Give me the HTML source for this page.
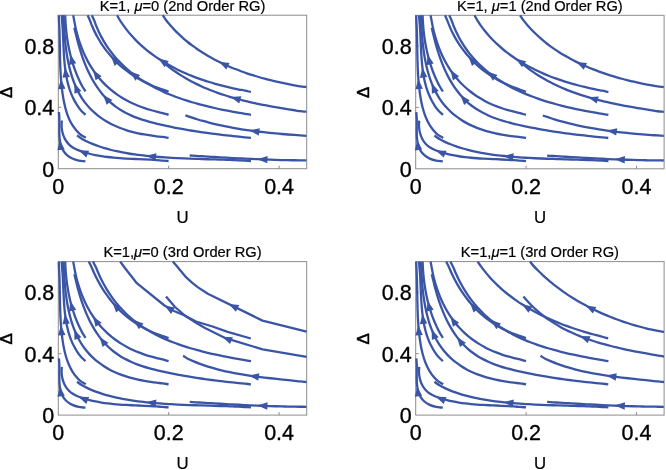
<!DOCTYPE html>
<html><head><meta charset="utf-8"><style>
html,body{margin:0;padding:0;background:#fff;}
body{width:666px;height:470px;overflow:hidden;}
svg{display:block;will-change:transform;filter:blur(0.35px);}
text{font-family:"Liberation Sans",sans-serif;fill:#000;stroke:#000;stroke-width:0.2px;}
.tk{stroke:#000;stroke-width:0.35px;}
.dl{stroke-width:0.45px;}
</style></head><body>
<svg width="666" height="470" viewBox="0 0 666 470">
<rect x="58.30" y="15.20" width="248.40" height="153.50" fill="none" stroke="#8c8c8c" stroke-width="1"/><line x1="168.70" y1="168.70" x2="168.70" y2="165.70" stroke="#8c8c8c" stroke-width="1"/><line x1="279.10" y1="168.70" x2="279.10" y2="165.70" stroke="#8c8c8c" stroke-width="1"/><line x1="58.30" y1="107.30" x2="61.30" y2="107.30" stroke="#8c8c8c" stroke-width="1"/><line x1="58.30" y1="45.90" x2="61.30" y2="45.90" stroke="#8c8c8c" stroke-width="1"/>
<rect x="415.70" y="15.30" width="248.40" height="153.50" fill="none" stroke="#8c8c8c" stroke-width="1"/><line x1="526.10" y1="168.80" x2="526.10" y2="165.80" stroke="#8c8c8c" stroke-width="1"/><line x1="636.50" y1="168.80" x2="636.50" y2="165.80" stroke="#8c8c8c" stroke-width="1"/><line x1="415.70" y1="107.40" x2="418.70" y2="107.40" stroke="#8c8c8c" stroke-width="1"/><line x1="415.70" y1="46.00" x2="418.70" y2="46.00" stroke="#8c8c8c" stroke-width="1"/>
<rect x="58.30" y="261.60" width="248.40" height="153.50" fill="none" stroke="#8c8c8c" stroke-width="1"/><line x1="168.70" y1="415.10" x2="168.70" y2="412.10" stroke="#8c8c8c" stroke-width="1"/><line x1="279.10" y1="415.10" x2="279.10" y2="412.10" stroke="#8c8c8c" stroke-width="1"/><line x1="58.30" y1="353.70" x2="61.30" y2="353.70" stroke="#8c8c8c" stroke-width="1"/><line x1="58.30" y1="292.30" x2="61.30" y2="292.30" stroke="#8c8c8c" stroke-width="1"/>
<rect x="415.70" y="261.60" width="248.40" height="153.50" fill="none" stroke="#8c8c8c" stroke-width="1"/><line x1="526.10" y1="415.10" x2="526.10" y2="412.10" stroke="#8c8c8c" stroke-width="1"/><line x1="636.50" y1="415.10" x2="636.50" y2="412.10" stroke="#8c8c8c" stroke-width="1"/><line x1="415.70" y1="353.70" x2="418.70" y2="353.70" stroke="#8c8c8c" stroke-width="1"/><line x1="415.70" y1="292.30" x2="418.70" y2="292.30" stroke="#8c8c8c" stroke-width="1"/>
<g fill="none" stroke="#3a55a6" stroke-width="2.30" stroke-linecap="butt" stroke-linejoin="round"><path d="M162.70 15.20C163.85 16.90 164.91 18.65 166.14 20.30C167.37 21.94 168.73 23.51 170.08 25.06C171.42 26.61 172.80 28.13 174.20 29.61C175.61 31.09 177.05 32.53 178.51 33.94C179.98 35.35 181.48 36.72 183.00 38.06C184.52 39.40 186.07 40.71 187.65 41.98C189.22 43.25 190.82 44.49 192.45 45.70C194.08 46.91 195.73 48.09 197.40 49.23C199.07 50.38 200.77 51.49 202.48 52.58C204.20 53.66 205.94 54.71 207.69 55.74C209.45 56.76 211.22 57.76 213.02 58.73C214.81 59.69 216.62 60.63 218.45 61.54C220.27 62.46 222.12 63.34 223.98 64.20C225.83 65.06 227.71 65.89 229.59 66.69C231.48 67.50 233.38 68.28 235.28 69.04C237.19 69.79 239.11 70.52 241.04 71.23C242.97 71.94 244.92 72.63 246.86 73.29C248.81 73.95 250.77 74.59 252.73 75.21C254.69 75.83 256.66 76.42 258.64 77.00C260.61 77.57 262.59 78.13 264.57 78.66C266.55 79.20 268.54 79.71 270.52 80.21C272.51 80.71 274.50 81.18 276.49 81.64C278.48 82.10 280.47 82.54 282.45 82.97C284.44 83.39 286.43 83.80 288.41 84.19C290.39 84.58 292.37 84.96 294.34 85.32C296.32 85.68 298.24 86.08 300.25 86.36C302.26 86.64 304.35 86.79 306.40 87.00"/><path d="M117.10 15.20C118.09 16.97 119.00 18.77 120.08 20.52C121.16 22.27 122.38 24.02 123.59 25.70C124.80 27.39 126.05 29.03 127.34 30.64C128.62 32.25 129.94 33.82 131.30 35.35C132.66 36.89 134.05 38.38 135.47 39.84C136.89 41.30 138.35 42.72 139.83 44.10C141.32 45.49 142.84 46.84 144.38 48.15C145.93 49.47 147.51 50.75 149.11 51.99C150.71 53.24 152.34 54.45 153.99 55.63C155.65 56.81 157.33 57.96 159.03 59.07C160.73 60.18 162.46 61.26 164.21 62.32C165.95 63.37 167.72 64.39 169.51 65.37C171.30 66.36 173.11 67.32 174.93 68.25C176.76 69.18 178.60 70.08 180.46 70.95C182.31 71.83 184.19 72.67 186.08 73.49C187.96 74.30 189.87 75.09 191.78 75.85C193.69 76.61 195.62 77.35 197.56 78.06C199.49 78.77 201.44 79.45 203.39 80.11C205.35 80.77 207.31 81.40 209.28 82.02C211.24 82.63 213.22 83.21 215.20 83.78C217.18 84.34 219.16 84.88 221.15 85.40C223.13 85.92 225.12 86.42 227.11 86.89C229.10 87.37 231.09 87.83 233.08 88.26C235.07 88.70 237.06 89.11 239.04 89.51C241.02 89.90 242.99 90.22 244.98 90.64C246.98 91.05 248.99 91.55 251.00 92.00"/><path d="M166.00 64.50C167.57 65.76 169.11 67.07 170.71 68.29C172.31 69.51 173.96 70.68 175.61 71.82C177.26 72.96 178.94 74.07 180.63 75.14C182.32 76.21 184.02 77.24 185.75 78.25C187.47 79.25 189.21 80.22 190.97 81.16C192.73 82.10 194.50 83.00 196.29 83.88C198.07 84.76 199.87 85.61 201.69 86.43C203.50 87.25 205.33 88.04 207.17 88.80C209.01 89.56 210.86 90.30 212.73 91.01C214.59 91.73 216.46 92.41 218.35 93.07C220.23 93.74 222.13 94.38 224.03 94.99C225.93 95.61 227.85 96.20 229.77 96.78C231.69 97.35 233.62 97.90 235.55 98.44C237.49 98.97 239.43 99.49 241.37 99.99C243.32 100.48 245.28 100.96 247.23 101.43C249.19 101.89 251.15 102.34 253.12 102.77C255.08 103.20 257.05 103.62 259.02 104.03C261.00 104.43 262.97 104.83 264.95 105.21C266.92 105.59 268.90 105.96 270.87 106.32C272.85 106.68 274.83 107.03 276.80 107.37C278.78 107.71 280.75 108.04 282.73 108.37C284.70 108.69 286.67 109.01 288.64 109.33C290.61 109.64 292.57 109.95 294.53 110.25C296.49 110.56 298.42 110.91 300.40 111.16C302.38 111.40 304.40 111.52 306.40 111.70"/><path d="M87.60 15.20C88.42 17.06 89.28 18.90 90.06 20.78C90.85 22.67 91.52 24.64 92.32 26.53C93.12 28.42 93.97 30.28 94.88 32.12C95.78 33.95 96.73 35.76 97.73 37.53C98.73 39.30 99.77 41.05 100.87 42.76C101.96 44.47 103.10 46.15 104.28 47.80C105.46 49.44 106.69 51.06 107.97 52.63C109.24 54.20 110.55 55.74 111.91 57.24C113.27 58.74 114.67 60.21 116.10 61.63C117.54 63.05 119.03 64.43 120.54 65.77C122.06 67.11 123.62 68.41 125.22 69.66C126.81 70.92 128.44 72.13 130.10 73.30C131.77 74.47 133.46 75.59 135.19 76.68C136.91 77.76 138.67 78.80 140.45 79.80C142.23 80.79 144.04 81.74 145.87 82.65C147.70 83.56 149.56 84.42 151.44 85.24C153.31 86.06 155.21 86.83 157.12 87.56C159.03 88.29 160.99 88.92 162.90 89.61C164.82 90.30 166.70 91.00 168.60 91.70"/><path d="M91.80 15.20C92.63 17.02 93.51 18.80 94.29 20.66C95.06 22.52 95.68 24.49 96.45 26.36C97.22 28.24 98.03 30.10 98.89 31.93C99.75 33.76 100.66 35.57 101.61 37.34C102.57 39.12 103.56 40.87 104.61 42.59C105.65 44.31 106.74 46.00 107.87 47.65C109.00 49.31 110.18 50.93 111.40 52.52C112.62 54.10 113.89 55.65 115.19 57.17C116.50 58.68 117.85 60.16 119.23 61.60C120.62 63.04 122.05 64.45 123.51 65.81C124.97 67.18 126.46 68.51 127.99 69.81C129.51 71.10 131.07 72.36 132.66 73.58C134.24 74.80 135.85 75.99 137.49 77.13C139.12 78.28 140.78 79.39 142.47 80.47C144.15 81.55 145.86 82.59 147.58 83.60C149.31 84.61 151.06 85.59 152.82 86.53C154.59 87.48 156.37 88.39 158.17 89.27C159.98 90.16 161.80 91.01 163.63 91.83C165.47 92.66 167.32 93.45 169.18 94.22C171.04 94.99 172.92 95.73 174.81 96.45C176.70 97.16 178.61 97.85 180.52 98.52C182.43 99.19 184.36 99.83 186.29 100.45C188.22 101.07 190.16 101.67 192.11 102.24C194.05 102.82 196.01 103.38 197.96 103.91C199.92 104.45 201.89 104.96 203.86 105.46C205.82 105.96 207.79 106.44 209.77 106.91C211.74 107.37 213.71 107.82 215.68 108.25C217.66 108.69 219.63 109.11 221.60 109.51C223.57 109.92 225.55 110.31 227.51 110.69C229.48 111.07 231.44 111.44 233.40 111.79C235.35 112.15 237.31 112.50 239.25 112.84C241.19 113.18 243.10 113.50 245.06 113.83C247.02 114.16 249.02 114.48 251.00 114.80"/><path d="M73.20 15.20C73.57 17.22 73.93 19.24 74.31 21.26C74.69 23.27 75.05 25.27 75.49 27.28C75.92 29.29 76.40 31.31 76.93 33.31C77.46 35.32 78.03 37.32 78.65 39.31C79.27 41.30 79.94 43.29 80.65 45.25C81.37 47.22 82.13 49.17 82.94 51.10C83.75 53.02 84.61 54.94 85.52 56.81C86.43 58.69 87.38 60.55 88.39 62.37C89.40 64.19 90.46 65.99 91.57 67.74C92.68 69.49 93.83 71.20 95.05 72.87C96.26 74.54 97.52 76.17 98.84 77.75C100.15 79.33 101.52 80.86 102.93 82.35C104.35 83.83 105.82 85.26 107.32 86.65C108.83 88.03 110.39 89.37 111.99 90.65C113.58 91.93 115.23 93.17 116.90 94.35C118.58 95.53 120.30 96.66 122.05 97.74C123.80 98.82 125.60 99.84 127.41 100.82C129.23 101.79 131.09 102.71 132.97 103.58C134.85 104.45 136.76 105.26 138.70 106.02C140.63 106.78 142.60 107.48 144.57 108.14C146.55 108.80 148.55 109.41 150.56 109.99C152.57 110.57 154.59 111.11 156.61 111.62C158.64 112.13 160.70 112.52 162.70 113.05C164.69 113.58 166.63 114.22 168.60 114.80"/><path d="M74.30 27.80C74.79 29.75 75.29 31.72 75.77 33.66C76.25 35.61 76.68 37.52 77.18 39.46C77.68 41.40 78.20 43.36 78.75 45.31C79.30 47.26 79.88 49.22 80.50 51.17C81.11 53.12 81.75 55.07 82.43 57.01C83.11 58.95 83.82 60.88 84.57 62.80C85.32 64.71 86.11 66.62 86.93 68.50C87.76 70.37 88.62 72.24 89.53 74.07C90.44 75.90 91.39 77.71 92.39 79.48C93.38 81.25 94.42 83.00 95.51 84.70C96.60 86.40 97.73 88.06 98.92 89.68C100.11 91.30 101.34 92.88 102.63 94.40C103.93 95.93 105.27 97.41 106.67 98.83C108.07 100.24 109.52 101.61 111.04 102.91C112.55 104.22 114.12 105.46 115.73 106.64C117.35 107.82 119.02 108.94 120.73 110.00C122.44 111.06 124.20 112.06 125.99 112.99C127.78 113.93 129.61 114.80 131.46 115.62C133.32 116.43 135.21 117.19 137.12 117.90C139.02 118.61 140.95 119.27 142.89 119.89C144.84 120.52 146.80 121.10 148.76 121.65C150.73 122.20 152.71 122.72 154.70 123.22C156.68 123.72 158.67 124.19 160.66 124.65C162.65 125.11 164.64 125.55 166.63 125.98C168.62 126.41 170.61 126.83 172.60 127.23C174.59 127.63 176.58 128.02 178.58 128.39C180.57 128.77 182.56 129.13 184.56 129.48C186.55 129.83 188.55 130.17 190.55 130.50C192.54 130.83 194.54 131.14 196.54 131.45C198.54 131.76 200.54 132.05 202.54 132.34C204.54 132.63 206.55 132.90 208.55 133.17C210.55 133.44 212.56 133.70 214.57 133.95C216.58 134.21 218.59 134.45 220.60 134.69C222.61 134.93 224.62 135.16 226.64 135.38C228.65 135.61 230.67 135.83 232.69 136.04C234.71 136.26 236.73 136.46 238.75 136.67C240.77 136.87 242.80 137.06 244.83 137.27C246.85 137.47 248.88 137.69 250.90 137.90"/><path d="M185.40 115.40C187.35 116.05 189.29 116.72 191.25 117.36C193.20 117.99 195.16 118.63 197.12 119.23C199.09 119.84 201.06 120.42 203.03 120.97C205.01 121.53 206.99 122.07 208.97 122.58C210.96 123.10 212.95 123.59 214.94 124.07C216.94 124.54 218.94 124.99 220.94 125.43C222.94 125.87 224.95 126.28 226.96 126.69C228.97 127.09 230.98 127.47 233.00 127.83C235.02 128.20 237.04 128.55 239.06 128.88C241.08 129.22 243.11 129.53 245.14 129.84C247.17 130.14 249.20 130.43 251.23 130.71C253.27 130.99 255.30 131.25 257.34 131.50C259.38 131.75 261.42 131.99 263.46 132.22C265.50 132.45 267.54 132.66 269.58 132.87C271.63 133.08 273.67 133.27 275.72 133.46C277.76 133.65 279.81 133.83 281.85 134.00C283.90 134.17 285.95 134.33 287.99 134.49C290.04 134.64 292.09 134.79 294.13 134.94C296.18 135.08 298.22 135.21 300.27 135.35C302.31 135.50 304.36 135.65 306.40 135.80"/><path d="M63.20 15.20C63.40 17.21 63.65 19.22 63.80 21.22C63.95 23.21 63.99 25.16 64.10 27.17C64.22 29.17 64.34 31.20 64.49 33.24C64.64 35.28 64.80 37.34 64.99 39.41C65.18 41.48 65.39 43.56 65.63 45.64C65.88 47.72 66.14 49.81 66.45 51.89C66.75 53.97 67.08 56.05 67.45 58.12C67.83 60.19 68.23 62.26 68.68 64.31C69.13 66.36 69.62 68.40 70.16 70.42C70.69 72.44 71.27 74.44 71.90 76.41C72.54 78.38 73.22 80.34 73.95 82.25C74.69 84.17 75.48 86.06 76.33 87.90C77.18 89.75 78.08 91.57 79.06 93.33C80.03 95.10 81.06 96.83 82.16 98.51C83.27 100.18 84.43 101.82 85.67 103.39C86.91 104.96 88.23 106.49 89.60 107.95C90.98 109.42 92.43 110.83 93.92 112.18C95.42 113.53 96.99 114.83 98.60 116.06C100.21 117.30 101.88 118.48 103.59 119.60C105.30 120.71 107.07 121.77 108.87 122.77C110.67 123.76 112.52 124.69 114.40 125.56C116.28 126.43 118.20 127.24 120.14 127.99C122.08 128.73 124.06 129.42 126.05 130.05C128.04 130.69 130.06 131.27 132.09 131.80C134.12 132.34 136.16 132.82 138.21 133.27C140.26 133.72 142.32 134.12 144.37 134.48C146.43 134.85 148.49 135.18 150.53 135.48C152.58 135.78 154.62 136.05 156.64 136.29C158.66 136.54 160.67 136.69 162.66 136.95C164.65 137.22 166.62 137.58 168.60 137.90"/><path d="M61.65 15.20C61.79 17.23 61.93 19.26 62.08 21.28C62.23 23.30 62.43 25.28 62.57 27.31C62.71 29.34 62.82 31.39 62.93 33.45C63.03 35.51 63.12 37.59 63.21 39.67C63.31 41.75 63.39 43.85 63.48 45.94C63.58 48.04 63.67 50.14 63.79 52.24C63.91 54.34 64.03 56.45 64.19 58.54C64.34 60.63 64.52 62.73 64.73 64.80C64.95 66.88 65.19 68.96 65.48 71.01C65.77 73.06 66.10 75.11 66.48 77.13C66.87 79.15 67.30 81.15 67.80 83.13C68.29 85.11 68.85 87.06 69.48 88.99C70.11 90.91 70.80 92.81 71.58 94.68C72.36 96.54 73.21 98.37 74.16 100.16C75.10 101.95 76.13 103.71 77.26 105.42C78.40 107.13 79.59 108.86 80.96 110.42C82.33 111.99 83.99 113.34 85.50 114.80"/><path d="M65.20 15.20C65.29 17.24 65.36 19.28 65.48 21.32C65.61 23.35 65.75 25.39 65.92 27.42C66.10 29.46 66.31 31.50 66.55 33.53C66.79 35.57 67.06 37.60 67.37 39.63C67.68 41.66 68.02 43.68 68.40 45.70C68.78 47.72 69.20 49.73 69.65 51.73C70.10 53.73 70.59 55.72 71.12 57.70C71.65 59.68 72.22 61.65 72.83 63.60C73.44 65.55 74.10 67.49 74.79 69.41C75.49 71.33 76.22 73.24 77.01 75.13C77.79 77.01 78.62 78.88 79.49 80.73C80.37 82.57 81.25 84.42 82.26 86.20C83.26 87.97 84.42 89.67 85.50 91.40"/><path d="M58.80 15.20C58.87 17.28 58.93 19.37 59.02 21.43C59.11 23.49 59.25 25.49 59.34 27.54C59.43 29.58 59.49 31.63 59.56 33.69C59.62 35.75 59.66 37.82 59.71 39.89C59.75 41.96 59.79 44.04 59.82 46.12C59.86 48.20 59.89 50.29 59.93 52.38C59.97 54.46 60.01 56.56 60.06 58.65C60.11 60.74 60.17 62.83 60.24 64.93C60.31 67.02 60.39 69.12 60.50 71.21C60.61 73.30 60.72 75.39 60.87 77.48C61.02 79.57 61.19 81.66 61.38 83.74C61.58 85.82 61.81 87.90 62.07 89.97C62.33 92.04 62.62 94.11 62.95 96.17C63.28 98.23 63.64 100.29 64.06 102.32C64.49 104.36 64.94 106.39 65.48 108.38C66.02 110.37 66.61 112.34 67.29 114.26C67.98 116.18 68.73 118.06 69.59 119.89C70.45 121.71 71.39 123.49 72.46 125.19C73.53 126.89 74.70 128.53 76.01 130.08C77.31 131.64 78.68 133.21 80.31 134.50C81.94 135.78 83.97 136.70 85.80 137.80"/><path d="M58.90 112.00C59.06 114.06 59.29 116.04 59.37 118.17C59.44 120.30 59.37 122.53 59.37 124.77C59.36 127.01 59.27 129.35 59.31 131.63C59.35 133.90 59.39 136.22 59.63 138.42C59.87 140.61 60.17 142.80 60.74 144.81C61.32 146.81 62.04 148.76 63.09 150.47C64.13 152.19 65.47 153.76 67.02 155.10C68.57 156.44 70.43 157.59 72.39 158.50C74.34 159.41 76.58 160.08 78.75 160.55C80.92 161.02 83.18 161.05 85.40 161.30"/><path d="M61.80 120.50C61.73 122.49 61.48 124.43 61.60 126.47C61.73 128.50 62.03 130.70 62.56 132.73C63.09 134.75 63.81 136.82 64.75 138.63C65.69 140.45 66.87 142.14 68.21 143.61C69.54 145.08 71.11 146.35 72.75 147.43C74.40 148.52 76.25 149.35 78.08 150.13C79.92 150.91 81.86 151.51 83.77 152.11C85.69 152.72 87.63 153.26 89.58 153.75C91.53 154.25 93.50 154.69 95.48 155.09C97.46 155.49 99.45 155.84 101.46 156.16C103.46 156.47 105.48 156.75 107.50 157.00C109.53 157.25 111.56 157.46 113.60 157.65C115.64 157.84 117.69 158.00 119.74 158.15C121.79 158.30 123.84 158.42 125.90 158.54C127.95 158.65 130.01 158.75 132.07 158.84C134.13 158.94 136.18 159.02 138.24 159.11C140.29 159.20 142.34 159.29 144.38 159.38C146.43 159.48 148.47 159.57 150.50 159.69C152.53 159.80 154.55 159.92 156.57 160.07C158.58 160.21 160.57 160.40 162.57 160.55C164.58 160.71 166.59 160.85 168.60 161.00"/><path d="M77.00 135.40C78.70 136.58 80.34 137.88 82.09 138.93C83.84 139.99 85.67 140.87 87.50 141.74C89.33 142.61 91.19 143.41 93.07 144.16C94.95 144.92 96.86 145.61 98.78 146.27C100.70 146.93 102.64 147.55 104.59 148.13C106.54 148.71 108.50 149.25 110.48 149.76C112.46 150.27 114.44 150.74 116.44 151.18C118.44 151.63 120.45 152.04 122.46 152.43C124.48 152.81 126.50 153.17 128.53 153.50C130.56 153.83 132.59 154.14 134.63 154.43C136.67 154.71 138.71 154.98 140.75 155.22C142.79 155.47 144.84 155.69 146.88 155.91C148.93 156.12 150.97 156.31 153.01 156.50C155.06 156.68 157.10 156.85 159.14 157.01C161.18 157.16 163.22 157.31 165.26 157.44C167.30 157.58 169.33 157.70 171.37 157.82C173.41 157.93 175.45 158.04 177.48 158.13C179.52 158.23 181.56 158.32 183.60 158.41C185.63 158.49 187.67 158.57 189.71 158.64C191.74 158.72 193.78 158.79 195.82 158.85C197.86 158.92 199.89 158.98 201.93 159.04C203.97 159.11 206.01 159.17 208.05 159.23C210.09 159.29 212.13 159.34 214.17 159.41C216.21 159.47 218.25 159.53 220.29 159.59C222.33 159.66 224.38 159.73 226.42 159.80C228.47 159.87 230.51 159.95 232.56 160.03C234.61 160.12 236.66 160.20 238.71 160.30C240.76 160.40 242.81 160.50 244.86 160.61C246.91 160.73 248.95 160.87 251.00 161.00"/><path d="M189.70 155.50C191.75 155.63 193.79 155.77 195.84 155.90C197.88 156.02 199.93 156.15 201.97 156.27C204.02 156.40 206.06 156.52 208.11 156.64C210.16 156.76 212.20 156.89 214.25 157.01C216.29 157.13 218.34 157.24 220.39 157.36C222.43 157.48 224.48 157.59 226.53 157.71C228.57 157.82 230.62 157.93 232.66 158.04C234.71 158.15 236.76 158.26 238.80 158.36C240.85 158.46 242.90 158.56 244.95 158.66C246.99 158.76 249.04 158.86 251.09 158.95C253.13 159.04 255.18 159.13 257.23 159.21C259.28 159.30 261.32 159.38 263.37 159.45C265.42 159.53 267.47 159.60 269.52 159.67C271.56 159.74 273.61 159.81 275.66 159.87C277.71 159.93 279.76 159.98 281.81 160.03C283.86 160.08 285.90 160.13 287.95 160.17C290.00 160.20 292.05 160.24 294.10 160.27C296.15 160.30 298.20 160.32 300.25 160.34C302.30 160.36 304.35 160.38 306.40 160.40"/></g><g fill="#3a55a6" stroke="none"><polygon points="219.00,61.82 229.60,62.94 226.32,69.57"/><polygon points="158.35,58.62 168.73,61.06 164.65,67.23"/><polygon points="230.73,97.06 241.37,96.34 239.27,103.44"/><polygon points="110.83,56.04 120.21,61.11 114.65,65.99"/><polygon points="129.99,71.47 140.08,74.91 135.41,80.65"/><polygon points="93.04,69.99 101.68,76.24 95.53,80.36"/><polygon points="103.02,94.86 112.35,100.03 106.73,104.86"/><polygon points="249.40,130.46 259.82,128.18 258.79,135.51"/><polygon points="74.25,83.02 81.36,90.97 74.47,93.68"/><polygon points="65.03,67.50 69.86,77.01 62.51,77.86"/><polygon points="70.31,54.52 76.28,63.35 69.09,65.11"/><polygon points="60.98,78.94 65.42,88.64 58.04,89.19"/><polygon points="59.81,139.95 64.75,149.40 57.41,150.34"/><polygon points="78.45,150.28 89.11,150.65 86.31,157.50"/><polygon points="146.07,155.82 156.40,153.19 155.62,160.55"/><polygon points="257.43,159.22 267.58,155.94 267.27,163.33"/></g>
<g fill="none" stroke="#3a55a6" stroke-width="2.30" stroke-linecap="butt" stroke-linejoin="round"><path d="M520.10 15.30C521.25 17.00 522.31 18.75 523.54 20.40C524.77 22.04 526.13 23.61 527.48 25.16C528.82 26.71 530.20 28.23 531.60 29.71C533.01 31.19 534.45 32.63 535.91 34.04C537.38 35.45 538.88 36.82 540.40 38.16C541.92 39.50 543.47 40.81 545.05 42.08C546.62 43.35 548.22 44.59 549.85 45.80C551.48 47.01 553.13 48.19 554.80 49.33C556.47 50.48 558.17 51.59 559.88 52.68C561.60 53.76 563.34 54.81 565.09 55.84C566.85 56.86 568.62 57.86 570.42 58.83C572.21 59.79 574.02 60.73 575.85 61.64C577.67 62.56 579.52 63.44 581.38 64.30C583.23 65.16 585.11 65.99 586.99 66.79C588.88 67.60 590.78 68.38 592.68 69.14C594.59 69.89 596.51 70.62 598.44 71.33C600.37 72.04 602.32 72.73 604.26 73.39C606.21 74.05 608.17 74.69 610.13 75.31C612.09 75.93 614.06 76.52 616.04 77.10C618.01 77.67 619.99 78.23 621.97 78.76C623.95 79.30 625.94 79.81 627.92 80.31C629.91 80.81 631.90 81.28 633.89 81.74C635.88 82.20 637.87 82.64 639.85 83.07C641.84 83.49 643.83 83.90 645.81 84.29C647.79 84.68 649.77 85.06 651.74 85.42C653.72 85.78 655.64 86.18 657.65 86.46C659.66 86.74 661.75 86.89 663.80 87.10"/><path d="M474.50 15.30C475.49 17.07 476.40 18.87 477.48 20.62C478.56 22.37 479.78 24.12 480.99 25.80C482.20 27.49 483.45 29.13 484.74 30.74C486.02 32.35 487.34 33.92 488.70 35.45C490.06 36.99 491.45 38.48 492.87 39.94C494.29 41.40 495.75 42.82 497.23 44.20C498.72 45.59 500.24 46.94 501.78 48.25C503.33 49.57 504.91 50.85 506.51 52.09C508.11 53.34 509.74 54.55 511.39 55.73C513.05 56.91 514.73 58.06 516.43 59.17C518.13 60.28 519.86 61.36 521.61 62.42C523.35 63.47 525.12 64.49 526.91 65.47C528.70 66.46 530.51 67.42 532.33 68.35C534.16 69.28 536.00 70.18 537.86 71.05C539.71 71.93 541.59 72.77 543.48 73.59C545.36 74.40 547.27 75.19 549.18 75.95C551.09 76.71 553.02 77.45 554.96 78.16C556.89 78.87 558.84 79.55 560.79 80.21C562.75 80.87 564.71 81.50 566.68 82.12C568.64 82.73 570.62 83.31 572.60 83.88C574.58 84.44 576.56 84.98 578.55 85.50C580.53 86.02 582.52 86.52 584.51 86.99C586.50 87.47 588.49 87.93 590.48 88.36C592.47 88.80 594.46 89.21 596.44 89.61C598.42 90.00 600.39 90.32 602.38 90.74C604.38 91.15 606.39 91.65 608.40 92.10"/><path d="M523.40 64.60C524.97 65.86 526.51 67.17 528.11 68.39C529.71 69.61 531.36 70.78 533.01 71.92C534.66 73.06 536.34 74.17 538.03 75.24C539.72 76.31 541.42 77.34 543.15 78.35C544.87 79.35 546.61 80.32 548.37 81.26C550.13 82.20 551.90 83.10 553.69 83.98C555.47 84.86 557.27 85.71 559.09 86.53C560.90 87.35 562.73 88.14 564.57 88.90C566.41 89.66 568.26 90.40 570.13 91.11C571.99 91.83 573.86 92.51 575.75 93.17C577.63 93.84 579.53 94.48 581.43 95.09C583.33 95.71 585.25 96.30 587.17 96.88C589.09 97.45 591.02 98.00 592.95 98.54C594.89 99.07 596.83 99.59 598.77 100.09C600.72 100.58 602.68 101.06 604.63 101.53C606.59 101.99 608.55 102.44 610.52 102.87C612.48 103.30 614.45 103.72 616.42 104.13C618.40 104.53 620.37 104.93 622.35 105.31C624.32 105.69 626.30 106.06 628.27 106.42C630.25 106.78 632.23 107.13 634.20 107.47C636.18 107.81 638.15 108.14 640.13 108.47C642.10 108.79 644.07 109.11 646.04 109.43C648.01 109.74 649.97 110.05 651.93 110.35C653.89 110.66 655.82 111.01 657.80 111.26C659.78 111.50 661.80 111.62 663.80 111.80"/><path d="M445.00 15.30C445.82 17.16 446.68 19.00 447.46 20.88C448.25 22.77 448.92 24.74 449.72 26.63C450.52 28.52 451.37 30.38 452.28 32.22C453.18 34.05 454.13 35.86 455.13 37.63C456.13 39.40 457.17 41.15 458.27 42.86C459.36 44.57 460.50 46.25 461.68 47.90C462.86 49.54 464.09 51.16 465.37 52.73C466.64 54.30 467.95 55.84 469.31 57.34C470.67 58.84 472.07 60.31 473.50 61.73C474.94 63.15 476.43 64.53 477.94 65.87C479.46 67.21 481.02 68.51 482.62 69.76C484.21 71.02 485.84 72.23 487.50 73.40C489.17 74.57 490.86 75.69 492.59 76.78C494.31 77.86 496.07 78.90 497.85 79.90C499.63 80.89 501.44 81.84 503.27 82.75C505.10 83.66 506.96 84.52 508.84 85.34C510.71 86.16 512.61 86.93 514.52 87.66C516.43 88.39 518.39 89.02 520.30 89.71C522.22 90.40 524.10 91.10 526.00 91.80"/><path d="M449.20 15.30C450.03 17.12 450.91 18.90 451.69 20.76C452.46 22.62 453.08 24.59 453.85 26.46C454.62 28.34 455.43 30.20 456.29 32.03C457.15 33.86 458.06 35.67 459.01 37.44C459.97 39.22 460.96 40.97 462.01 42.69C463.05 44.41 464.14 46.10 465.27 47.75C466.40 49.41 467.58 51.03 468.80 52.62C470.02 54.20 471.29 55.75 472.59 57.27C473.90 58.78 475.25 60.26 476.63 61.70C478.02 63.14 479.45 64.55 480.91 65.91C482.37 67.28 483.86 68.61 485.39 69.91C486.91 71.20 488.47 72.46 490.06 73.68C491.64 74.90 493.25 76.09 494.89 77.23C496.52 78.38 498.18 79.49 499.87 80.57C501.55 81.65 503.26 82.69 504.98 83.70C506.71 84.71 508.46 85.69 510.22 86.63C511.99 87.58 513.77 88.49 515.57 89.37C517.38 90.26 519.20 91.11 521.03 91.93C522.87 92.76 524.72 93.55 526.58 94.32C528.44 95.09 530.32 95.83 532.21 96.55C534.10 97.26 536.01 97.95 537.92 98.62C539.83 99.29 541.76 99.93 543.69 100.55C545.62 101.17 547.56 101.77 549.51 102.34C551.45 102.92 553.41 103.48 555.36 104.01C557.32 104.55 559.29 105.06 561.26 105.56C563.22 106.06 565.19 106.54 567.17 107.01C569.14 107.47 571.11 107.92 573.08 108.35C575.06 108.79 577.03 109.21 579.00 109.61C580.97 110.02 582.95 110.41 584.91 110.79C586.88 111.17 588.84 111.54 590.80 111.89C592.75 112.25 594.71 112.60 596.65 112.94C598.59 113.28 600.50 113.60 602.46 113.93C604.42 114.26 606.42 114.58 608.40 114.90"/><path d="M430.60 15.30C430.97 17.32 431.33 19.34 431.71 21.36C432.09 23.37 432.45 25.37 432.89 27.38C433.32 29.39 433.80 31.41 434.33 33.41C434.86 35.42 435.43 37.42 436.05 39.41C436.67 41.40 437.34 43.39 438.05 45.35C438.77 47.32 439.53 49.27 440.34 51.20C441.15 53.12 442.01 55.04 442.92 56.91C443.83 58.79 444.78 60.65 445.79 62.47C446.80 64.29 447.86 66.09 448.97 67.84C450.08 69.59 451.23 71.30 452.45 72.97C453.66 74.64 454.92 76.27 456.24 77.85C457.55 79.43 458.92 80.96 460.33 82.45C461.75 83.93 463.22 85.36 464.72 86.75C466.23 88.13 467.79 89.47 469.39 90.75C470.98 92.03 472.63 93.27 474.30 94.45C475.98 95.63 477.70 96.76 479.45 97.84C481.20 98.92 483.00 99.94 484.81 100.92C486.63 101.89 488.49 102.81 490.37 103.68C492.25 104.55 494.16 105.36 496.10 106.12C498.03 106.88 500.00 107.58 501.97 108.24C503.95 108.90 505.95 109.51 507.96 110.09C509.97 110.67 511.99 111.21 514.01 111.72C516.04 112.23 518.10 112.62 520.10 113.15C522.09 113.68 524.03 114.32 526.00 114.90"/><path d="M431.70 27.90C432.19 29.85 432.69 31.82 433.17 33.76C433.65 35.71 434.08 37.62 434.58 39.56C435.08 41.50 435.60 43.46 436.15 45.41C436.70 47.36 437.28 49.32 437.90 51.27C438.51 53.22 439.15 55.17 439.83 57.11C440.51 59.05 441.22 60.98 441.97 62.90C442.72 64.81 443.51 66.72 444.33 68.60C445.16 70.47 446.02 72.34 446.93 74.17C447.84 76.00 448.79 77.81 449.79 79.58C450.78 81.35 451.82 83.10 452.91 84.80C454.00 86.50 455.13 88.16 456.32 89.78C457.51 91.40 458.74 92.98 460.03 94.50C461.33 96.03 462.67 97.51 464.07 98.93C465.47 100.34 466.92 101.71 468.44 103.01C469.95 104.32 471.52 105.56 473.13 106.74C474.75 107.92 476.42 109.04 478.13 110.10C479.84 111.16 481.60 112.16 483.39 113.09C485.18 114.03 487.01 114.90 488.86 115.72C490.72 116.53 492.61 117.29 494.52 118.00C496.42 118.71 498.35 119.37 500.29 119.99C502.24 120.62 504.20 121.20 506.16 121.75C508.13 122.30 510.11 122.82 512.10 123.32C514.08 123.82 516.07 124.29 518.06 124.75C520.05 125.21 522.04 125.65 524.03 126.08C526.02 126.51 528.01 126.93 530.00 127.33C531.99 127.73 533.98 128.12 535.98 128.49C537.97 128.87 539.96 129.23 541.96 129.58C543.95 129.93 545.95 130.27 547.95 130.60C549.94 130.93 551.94 131.24 553.94 131.55C555.94 131.86 557.94 132.15 559.94 132.44C561.94 132.73 563.95 133.00 565.95 133.27C567.95 133.54 569.96 133.80 571.97 134.05C573.98 134.31 575.99 134.55 578.00 134.79C580.01 135.03 582.02 135.26 584.04 135.48C586.05 135.71 588.07 135.93 590.09 136.14C592.11 136.36 594.13 136.56 596.15 136.77C598.17 136.97 600.20 137.16 602.23 137.37C604.25 137.57 606.28 137.79 608.30 138.00"/><path d="M542.80 115.50C544.75 116.15 546.69 116.82 548.65 117.46C550.60 118.09 552.56 118.73 554.52 119.33C556.49 119.94 558.46 120.52 560.43 121.07C562.41 121.63 564.39 122.17 566.37 122.68C568.36 123.20 570.35 123.69 572.34 124.17C574.34 124.64 576.34 125.09 578.34 125.53C580.34 125.97 582.35 126.38 584.36 126.79C586.37 127.19 588.38 127.57 590.40 127.93C592.42 128.30 594.44 128.65 596.46 128.98C598.48 129.32 600.51 129.63 602.54 129.94C604.57 130.24 606.60 130.53 608.63 130.81C610.67 131.09 612.70 131.35 614.74 131.60C616.78 131.85 618.82 132.09 620.86 132.32C622.90 132.55 624.94 132.76 626.98 132.97C629.03 133.18 631.07 133.37 633.12 133.56C635.16 133.75 637.21 133.93 639.25 134.10C641.30 134.27 643.35 134.43 645.39 134.59C647.44 134.74 649.49 134.89 651.53 135.04C653.58 135.18 655.62 135.31 657.67 135.45C659.71 135.60 661.76 135.75 663.80 135.90"/><path d="M420.60 15.30C420.80 17.31 421.05 19.32 421.20 21.32C421.35 23.31 421.39 25.26 421.50 27.27C421.62 29.27 421.74 31.30 421.89 33.34C422.04 35.38 422.20 37.44 422.39 39.51C422.58 41.58 422.79 43.66 423.03 45.74C423.28 47.82 423.54 49.91 423.85 51.99C424.15 54.07 424.48 56.15 424.85 58.22C425.23 60.29 425.63 62.36 426.08 64.41C426.53 66.46 427.02 68.50 427.56 70.52C428.09 72.54 428.67 74.54 429.30 76.51C429.94 78.48 430.62 80.44 431.35 82.35C432.09 84.27 432.88 86.16 433.73 88.00C434.58 89.85 435.48 91.67 436.46 93.43C437.43 95.20 438.46 96.93 439.56 98.61C440.67 100.28 441.83 101.92 443.07 103.49C444.31 105.06 445.63 106.59 447.00 108.05C448.38 109.52 449.83 110.93 451.32 112.28C452.82 113.63 454.39 114.93 456.00 116.16C457.61 117.40 459.28 118.58 460.99 119.70C462.70 120.81 464.47 121.87 466.27 122.87C468.07 123.86 469.92 124.79 471.80 125.66C473.68 126.53 475.60 127.34 477.54 128.09C479.48 128.83 481.46 129.52 483.45 130.15C485.44 130.79 487.46 131.37 489.49 131.90C491.52 132.44 493.56 132.92 495.61 133.37C497.66 133.82 499.72 134.22 501.77 134.58C503.83 134.95 505.89 135.28 507.93 135.58C509.98 135.88 512.02 136.15 514.04 136.39C516.06 136.64 518.07 136.79 520.06 137.05C522.05 137.32 524.02 137.68 526.00 138.00"/><path d="M419.05 15.30C419.19 17.33 419.33 19.36 419.48 21.38C419.63 23.40 419.83 25.38 419.97 27.41C420.11 29.44 420.22 31.49 420.33 33.55C420.43 35.61 420.52 37.69 420.61 39.77C420.71 41.85 420.79 43.95 420.88 46.04C420.98 48.14 421.07 50.24 421.19 52.34C421.31 54.44 421.43 56.55 421.59 58.64C421.74 60.73 421.92 62.83 422.13 64.90C422.35 66.98 422.59 69.06 422.88 71.11C423.17 73.16 423.50 75.21 423.88 77.23C424.27 79.25 424.70 81.25 425.20 83.23C425.69 85.21 426.25 87.16 426.88 89.09C427.51 91.01 428.20 92.91 428.98 94.78C429.76 96.64 430.61 98.47 431.56 100.26C432.50 102.05 433.53 103.81 434.66 105.52C435.80 107.23 436.99 108.96 438.36 110.52C439.73 112.09 441.39 113.44 442.90 114.90"/><path d="M422.60 15.30C422.69 17.34 422.76 19.38 422.88 21.42C423.01 23.45 423.15 25.49 423.32 27.52C423.50 29.56 423.71 31.60 423.95 33.63C424.19 35.67 424.46 37.70 424.77 39.73C425.08 41.76 425.42 43.78 425.80 45.80C426.18 47.82 426.60 49.83 427.05 51.83C427.50 53.83 427.99 55.82 428.52 57.80C429.05 59.78 429.62 61.75 430.23 63.70C430.84 65.65 431.50 67.59 432.19 69.51C432.89 71.43 433.62 73.34 434.41 75.23C435.19 77.11 436.02 78.98 436.89 80.83C437.77 82.67 438.65 84.52 439.66 86.30C440.66 88.07 441.82 89.77 442.90 91.50"/><path d="M416.20 15.30C416.27 17.38 416.33 19.47 416.42 21.53C416.51 23.59 416.65 25.59 416.74 27.64C416.83 29.68 416.89 31.73 416.96 33.79C417.02 35.85 417.06 37.92 417.11 39.99C417.15 42.06 417.19 44.14 417.22 46.22C417.26 48.30 417.29 50.39 417.33 52.48C417.37 54.56 417.41 56.66 417.46 58.75C417.51 60.84 417.57 62.93 417.64 65.03C417.71 67.12 417.79 69.22 417.90 71.31C418.01 73.40 418.12 75.49 418.27 77.58C418.42 79.67 418.59 81.76 418.78 83.84C418.98 85.92 419.21 88.00 419.47 90.07C419.73 92.14 420.02 94.21 420.35 96.27C420.68 98.33 421.04 100.39 421.46 102.42C421.89 104.46 422.34 106.49 422.88 108.48C423.42 110.47 424.01 112.44 424.69 114.36C425.38 116.28 426.13 118.16 426.99 119.99C427.85 121.81 428.79 123.59 429.86 125.29C430.93 126.99 432.10 128.63 433.41 130.18C434.71 131.74 436.08 133.31 437.71 134.60C439.34 135.88 441.37 136.80 443.20 137.90"/><path d="M416.30 112.10C416.46 114.16 416.69 116.14 416.77 118.27C416.84 120.40 416.77 122.63 416.77 124.87C416.76 127.11 416.67 129.45 416.71 131.73C416.75 134.00 416.79 136.32 417.03 138.52C417.27 140.71 417.57 142.90 418.14 144.91C418.72 146.91 419.44 148.86 420.49 150.57C421.53 152.29 422.87 153.86 424.42 155.20C425.97 156.54 427.83 157.69 429.79 158.60C431.74 159.51 433.98 160.18 436.15 160.65C438.32 161.12 440.58 161.15 442.80 161.40"/><path d="M419.20 120.60C419.13 122.59 418.88 124.53 419.00 126.57C419.13 128.60 419.43 130.80 419.96 132.83C420.49 134.85 421.21 136.92 422.15 138.73C423.09 140.55 424.27 142.24 425.61 143.71C426.94 145.18 428.51 146.45 430.15 147.53C431.80 148.62 433.65 149.45 435.48 150.23C437.32 151.01 439.26 151.61 441.17 152.21C443.09 152.82 445.03 153.36 446.98 153.85C448.93 154.35 450.90 154.79 452.88 155.19C454.86 155.59 456.85 155.94 458.86 156.26C460.86 156.57 462.88 156.85 464.90 157.10C466.93 157.35 468.96 157.56 471.00 157.75C473.04 157.94 475.09 158.10 477.14 158.25C479.19 158.40 481.24 158.52 483.30 158.64C485.35 158.75 487.41 158.85 489.47 158.94C491.53 159.04 493.58 159.12 495.64 159.21C497.69 159.30 499.74 159.39 501.78 159.48C503.83 159.58 505.87 159.67 507.90 159.79C509.93 159.90 511.95 160.02 513.97 160.17C515.98 160.31 517.97 160.50 519.97 160.65C521.98 160.81 523.99 160.95 526.00 161.10"/><path d="M434.40 135.50C436.10 136.68 437.74 137.98 439.49 139.03C441.24 140.09 443.07 140.97 444.90 141.84C446.73 142.71 448.59 143.51 450.47 144.26C452.35 145.02 454.26 145.71 456.18 146.37C458.10 147.03 460.04 147.65 461.99 148.23C463.94 148.81 465.90 149.35 467.88 149.86C469.86 150.37 471.84 150.84 473.84 151.28C475.84 151.73 477.85 152.14 479.86 152.53C481.88 152.91 483.90 153.27 485.93 153.60C487.96 153.93 489.99 154.24 492.03 154.53C494.07 154.81 496.11 155.08 498.15 155.32C500.19 155.57 502.24 155.79 504.28 156.01C506.33 156.22 508.37 156.41 510.41 156.60C512.46 156.78 514.50 156.95 516.54 157.11C518.58 157.26 520.62 157.41 522.66 157.54C524.70 157.68 526.73 157.80 528.77 157.92C530.81 158.03 532.85 158.14 534.88 158.23C536.92 158.33 538.96 158.42 541.00 158.51C543.03 158.59 545.07 158.67 547.11 158.74C549.14 158.82 551.18 158.89 553.22 158.95C555.26 159.02 557.29 159.08 559.33 159.14C561.37 159.21 563.41 159.27 565.45 159.33C567.49 159.39 569.53 159.44 571.57 159.51C573.61 159.57 575.65 159.63 577.69 159.69C579.73 159.76 581.78 159.83 583.82 159.90C585.87 159.97 587.91 160.05 589.96 160.13C592.01 160.22 594.06 160.30 596.11 160.40C598.16 160.50 600.21 160.60 602.26 160.71C604.31 160.83 606.35 160.97 608.40 161.10"/><path d="M547.10 155.60C549.15 155.73 551.19 155.87 553.24 156.00C555.28 156.12 557.33 156.25 559.37 156.37C561.42 156.50 563.46 156.62 565.51 156.74C567.56 156.86 569.60 156.99 571.65 157.11C573.69 157.23 575.74 157.34 577.79 157.46C579.83 157.58 581.88 157.69 583.93 157.81C585.97 157.92 588.02 158.03 590.06 158.14C592.11 158.25 594.16 158.36 596.20 158.46C598.25 158.56 600.30 158.66 602.35 158.76C604.39 158.86 606.44 158.96 608.49 159.05C610.53 159.14 612.58 159.23 614.63 159.31C616.68 159.40 618.72 159.48 620.77 159.55C622.82 159.63 624.87 159.70 626.92 159.77C628.96 159.84 631.01 159.91 633.06 159.97C635.11 160.03 637.16 160.08 639.21 160.13C641.26 160.18 643.30 160.23 645.35 160.27C647.40 160.30 649.45 160.34 651.50 160.37C653.55 160.40 655.60 160.42 657.65 160.44C659.70 160.46 661.75 160.48 663.80 160.50"/></g><g fill="#3a55a6" stroke="none"><polygon points="576.40,61.92 587.00,63.04 583.72,69.67"/><polygon points="515.75,58.72 526.13,61.16 522.05,67.33"/><polygon points="588.13,97.16 598.77,96.44 596.67,103.54"/><polygon points="468.23,56.14 477.61,61.21 472.05,66.09"/><polygon points="487.39,71.57 497.48,75.01 492.81,80.75"/><polygon points="450.44,70.09 459.08,76.34 452.93,80.46"/><polygon points="460.42,94.96 469.75,100.13 464.13,104.96"/><polygon points="606.80,130.56 617.22,128.28 616.19,135.61"/><polygon points="431.65,83.12 438.76,91.07 431.87,93.78"/><polygon points="422.43,67.60 427.26,77.11 419.91,77.96"/><polygon points="427.71,54.62 433.68,63.45 426.49,65.21"/><polygon points="418.38,79.04 422.82,88.74 415.44,89.29"/><polygon points="417.21,140.05 422.15,149.50 414.81,150.44"/><polygon points="435.85,150.38 446.51,150.75 443.71,157.60"/><polygon points="503.47,155.92 513.80,153.29 513.02,160.65"/><polygon points="614.83,159.32 624.98,156.04 624.67,163.43"/></g>
<g fill="none" stroke="#3a55a6" stroke-width="2.30" stroke-linecap="butt" stroke-linejoin="round"><path d="M172.80 261.60 L176.50 265.80 L180.00 270.00 L186.00 277.20 L192.00 282.60 L198.00 287.40 L207.80 293.70 L262.50 320.60 L306.60 331.60"/><path d="M120.20 261.60 L124.00 266.80 L128.00 272.00 L132.00 277.00 L136.80 283.20 L164.50 305.50 L174.00 311.00 L184.00 315.30 L196.00 321.50 L212.50 326.50 L227.60 331.80 L250.80 338.50"/><path d="M166.00 296.50 L175.00 307.00 L185.50 316.00 L196.00 322.80 L205.00 328.00 L224.60 337.80 L262.60 349.40 L306.60 356.90"/><path d="M88.80 261.60C89.69 263.40 90.63 265.16 91.48 266.99C92.32 268.82 93.04 270.72 93.88 272.56C94.72 274.40 95.60 276.23 96.52 278.03C97.44 279.84 98.39 281.62 99.39 283.38C100.38 285.15 101.42 286.89 102.49 288.60C103.56 290.31 104.67 292.00 105.82 293.65C106.97 295.31 108.15 296.94 109.38 298.53C110.61 300.13 111.87 301.69 113.17 303.22C114.48 304.75 115.82 306.24 117.20 307.69C118.58 309.15 120.00 310.56 121.45 311.94C122.91 313.31 124.41 314.65 125.94 315.94C127.47 317.22 129.04 318.47 130.65 319.67C132.25 320.87 133.89 322.03 135.56 323.14C137.24 324.25 138.94 325.32 140.68 326.33C142.42 327.34 144.19 328.31 145.98 329.23C147.78 330.14 149.61 331.01 151.47 331.83C153.32 332.64 155.21 333.41 157.12 334.11C159.03 334.82 161.01 335.42 162.92 336.08C164.84 336.74 166.71 337.43 168.60 338.10"/><path d="M93.00 261.60C93.93 263.42 94.93 265.18 95.79 267.05C96.66 268.91 97.36 270.88 98.20 272.78C99.04 274.68 99.91 276.57 100.82 278.43C101.74 280.29 102.69 282.14 103.68 283.96C104.67 285.78 105.70 287.59 106.77 289.36C107.84 291.13 108.95 292.88 110.10 294.59C111.25 296.31 112.45 297.99 113.68 299.64C114.92 301.29 116.20 302.90 117.52 304.48C118.84 306.05 120.20 307.59 121.60 309.09C123.00 310.58 124.44 312.05 125.92 313.46C127.40 314.88 128.91 316.26 130.46 317.60C132.00 318.94 133.59 320.24 135.20 321.50C136.81 322.75 138.45 323.96 140.12 325.14C141.80 326.31 143.50 327.44 145.22 328.53C146.95 329.62 148.71 330.67 150.48 331.69C152.26 332.70 154.06 333.68 155.89 334.62C157.71 335.57 159.56 336.47 161.42 337.35C163.29 338.22 165.17 339.06 167.07 339.88C168.98 340.69 170.90 341.47 172.83 342.22C174.76 342.97 176.71 343.69 178.68 344.38C180.64 345.08 182.61 345.74 184.60 346.39C186.58 347.03 188.58 347.65 190.58 348.24C192.58 348.84 194.59 349.41 196.61 349.96C198.63 350.51 200.65 351.04 202.68 351.55C204.70 352.06 206.73 352.55 208.76 353.02C210.79 353.50 212.82 353.96 214.85 354.40C216.88 354.84 218.91 355.27 220.94 355.69C222.96 356.10 224.99 356.50 227.00 356.90C229.02 357.29 231.03 357.67 233.03 358.04C235.03 358.41 237.03 358.78 239.01 359.13C241.00 359.49 242.93 359.84 244.93 360.18C246.93 360.53 248.98 360.86 251.00 361.20"/><path d="M73.20 261.60C73.57 263.62 73.93 265.64 74.31 267.66C74.69 269.67 75.05 271.67 75.49 273.68C75.92 275.69 76.40 277.71 76.93 279.71C77.46 281.72 78.03 283.72 78.65 285.71C79.27 287.70 79.94 289.69 80.65 291.65C81.37 293.62 82.13 295.57 82.94 297.50C83.75 299.42 84.61 301.34 85.52 303.21C86.43 305.09 87.38 306.95 88.39 308.77C89.40 310.59 90.46 312.39 91.57 314.14C92.68 315.89 93.83 317.60 95.05 319.27C96.26 320.94 97.52 322.57 98.84 324.15C100.15 325.73 101.52 327.26 102.93 328.75C104.35 330.23 105.82 331.66 107.32 333.05C108.83 334.43 110.39 335.77 111.99 337.05C113.58 338.33 115.23 339.57 116.90 340.75C118.58 341.93 120.30 343.06 122.05 344.14C123.80 345.22 125.60 346.24 127.41 347.22C129.23 348.19 131.09 349.11 132.97 349.98C134.85 350.85 136.76 351.66 138.70 352.42C140.63 353.18 142.60 353.88 144.57 354.54C146.55 355.20 148.55 355.81 150.56 356.39C152.57 356.97 154.59 357.51 156.61 358.02C158.64 358.53 160.70 358.92 162.70 359.45C164.69 359.98 166.63 360.62 168.60 361.20"/><path d="M74.30 274.20C74.79 276.15 75.29 278.12 75.77 280.06C76.25 282.01 76.68 283.92 77.18 285.86C77.68 287.80 78.20 289.76 78.75 291.71C79.30 293.66 79.88 295.62 80.50 297.57C81.11 299.52 81.75 301.47 82.43 303.41C83.11 305.35 83.82 307.28 84.57 309.20C85.32 311.11 86.11 313.02 86.93 314.90C87.76 316.77 88.62 318.64 89.53 320.47C90.44 322.30 91.39 324.11 92.39 325.88C93.38 327.65 94.42 329.40 95.51 331.10C96.60 332.80 97.73 334.46 98.92 336.08C100.11 337.70 101.34 339.28 102.63 340.80C103.93 342.33 105.27 343.81 106.67 345.23C108.07 346.64 109.52 348.01 111.04 349.31C112.55 350.62 114.12 351.86 115.73 353.04C117.35 354.22 119.02 355.34 120.73 356.40C122.44 357.46 124.20 358.46 125.99 359.39C127.78 360.33 129.61 361.20 131.46 362.02C133.32 362.83 135.21 363.59 137.12 364.30C139.02 365.01 140.95 365.67 142.89 366.29C144.84 366.92 146.80 367.50 148.76 368.05C150.73 368.60 152.71 369.12 154.70 369.62C156.68 370.12 158.67 370.59 160.66 371.05C162.65 371.51 164.64 371.95 166.63 372.38C168.62 372.81 170.61 373.23 172.60 373.63C174.59 374.03 176.58 374.42 178.58 374.79C180.57 375.17 182.56 375.53 184.56 375.88C186.55 376.23 188.55 376.57 190.55 376.90C192.54 377.23 194.54 377.54 196.54 377.85C198.54 378.16 200.54 378.45 202.54 378.74C204.54 379.03 206.55 379.30 208.55 379.57C210.55 379.84 212.56 380.10 214.57 380.35C216.58 380.61 218.59 380.85 220.60 381.09C222.61 381.33 224.62 381.56 226.64 381.78C228.65 382.01 230.67 382.23 232.69 382.44C234.71 382.66 236.73 382.86 238.75 383.07C240.77 383.27 242.80 383.46 244.83 383.67C246.85 383.87 248.88 384.09 250.90 384.30"/><path d="M183.10 355.80C184.80 356.87 186.43 358.07 188.20 359.01C189.97 359.95 191.88 360.66 193.74 361.43C195.59 362.20 197.47 362.94 199.35 363.64C201.23 364.34 203.13 365.00 205.03 365.64C206.94 366.28 208.86 366.88 210.78 367.45C212.71 368.03 214.65 368.57 216.59 369.09C218.54 369.61 220.49 370.10 222.46 370.57C224.42 371.03 226.39 371.47 228.37 371.89C230.34 372.32 232.33 372.71 234.31 373.09C236.30 373.47 238.30 373.83 240.30 374.17C242.30 374.51 244.30 374.83 246.31 375.14C248.32 375.45 250.33 375.74 252.34 376.02C254.35 376.30 256.37 376.56 258.39 376.82C260.40 377.08 262.42 377.32 264.44 377.56C266.46 377.80 268.48 378.03 270.50 378.25C272.52 378.48 274.54 378.69 276.55 378.91C278.57 379.12 280.58 379.33 282.59 379.54C284.60 379.75 286.61 379.96 288.62 380.17C290.62 380.38 292.62 380.59 294.62 380.80C296.61 381.02 298.59 381.26 300.59 381.46C302.59 381.66 304.60 381.82 306.60 382.00"/><path d="M63.20 261.60C63.40 263.61 63.65 265.62 63.80 267.62C63.95 269.61 63.99 271.56 64.10 273.57C64.22 275.57 64.34 277.60 64.49 279.64C64.64 281.68 64.80 283.74 64.99 285.81C65.18 287.88 65.39 289.96 65.63 292.04C65.88 294.12 66.14 296.21 66.45 298.29C66.75 300.37 67.08 302.45 67.45 304.52C67.83 306.59 68.23 308.66 68.68 310.71C69.13 312.76 69.62 314.80 70.16 316.82C70.69 318.84 71.27 320.84 71.90 322.81C72.54 324.78 73.22 326.74 73.95 328.65C74.69 330.57 75.48 332.46 76.33 334.30C77.18 336.15 78.08 337.97 79.06 339.73C80.03 341.50 81.06 343.23 82.16 344.91C83.27 346.58 84.43 348.22 85.67 349.79C86.91 351.36 88.23 352.89 89.60 354.35C90.98 355.82 92.43 357.23 93.92 358.58C95.42 359.93 96.99 361.23 98.60 362.46C100.21 363.70 101.88 364.88 103.59 366.00C105.30 367.11 107.07 368.17 108.87 369.17C110.67 370.16 112.52 371.09 114.40 371.96C116.28 372.83 118.20 373.64 120.14 374.39C122.08 375.13 124.06 375.82 126.05 376.45C128.04 377.09 130.06 377.67 132.09 378.20C134.12 378.74 136.16 379.22 138.21 379.67C140.26 380.12 142.32 380.52 144.37 380.88C146.43 381.25 148.49 381.58 150.53 381.88C152.58 382.18 154.62 382.45 156.64 382.69C158.66 382.94 160.67 383.09 162.66 383.35C164.65 383.62 166.62 383.98 168.60 384.30"/><path d="M61.65 261.60C61.79 263.63 61.93 265.66 62.08 267.68C62.23 269.70 62.43 271.68 62.57 273.71C62.71 275.74 62.82 277.79 62.93 279.85C63.03 281.91 63.12 283.99 63.21 286.07C63.31 288.15 63.39 290.25 63.48 292.34C63.58 294.44 63.67 296.54 63.79 298.64C63.91 300.74 64.03 302.85 64.19 304.94C64.34 307.03 64.52 309.13 64.73 311.20C64.95 313.28 65.19 315.36 65.48 317.41C65.77 319.46 66.10 321.51 66.48 323.53C66.87 325.55 67.30 327.55 67.80 329.53C68.29 331.51 68.85 333.46 69.48 335.39C70.11 337.31 70.80 339.21 71.58 341.08C72.36 342.94 73.21 344.77 74.16 346.56C75.10 348.35 76.13 350.11 77.26 351.82C78.40 353.53 79.59 355.26 80.96 356.82C82.33 358.39 83.99 359.74 85.50 361.20"/><path d="M65.20 261.60C65.29 263.64 65.36 265.68 65.48 267.72C65.61 269.75 65.75 271.79 65.92 273.82C66.10 275.86 66.31 277.90 66.55 279.93C66.79 281.97 67.06 284.00 67.37 286.03C67.68 288.06 68.02 290.08 68.40 292.10C68.78 294.12 69.20 296.13 69.65 298.13C70.10 300.13 70.59 302.12 71.12 304.10C71.65 306.08 72.22 308.05 72.83 310.00C73.44 311.95 74.10 313.89 74.79 315.81C75.49 317.73 76.22 319.64 77.01 321.53C77.79 323.41 78.62 325.28 79.49 327.13C80.37 328.97 81.25 330.82 82.26 332.60C83.26 334.37 84.42 336.07 85.50 337.80"/><path d="M58.80 261.60C58.87 263.68 58.93 265.77 59.02 267.83C59.11 269.89 59.25 271.89 59.34 273.94C59.43 275.98 59.49 278.03 59.56 280.09C59.62 282.15 59.66 284.22 59.71 286.29C59.75 288.36 59.79 290.44 59.82 292.52C59.86 294.60 59.89 296.69 59.93 298.78C59.97 300.86 60.01 302.96 60.06 305.05C60.11 307.14 60.17 309.23 60.24 311.33C60.31 313.42 60.39 315.52 60.50 317.61C60.61 319.70 60.72 321.79 60.87 323.88C61.02 325.97 61.19 328.06 61.38 330.14C61.58 332.22 61.81 334.30 62.07 336.37C62.33 338.44 62.62 340.51 62.95 342.57C63.28 344.63 63.64 346.69 64.06 348.72C64.49 350.76 64.94 352.79 65.48 354.78C66.02 356.77 66.61 358.74 67.29 360.66C67.98 362.58 68.73 364.46 69.59 366.29C70.45 368.11 71.39 369.89 72.46 371.59C73.53 373.29 74.70 374.93 76.01 376.48C77.31 378.04 78.68 379.61 80.31 380.90C81.94 382.18 83.97 383.10 85.80 384.20"/><path d="M58.90 358.40C59.06 360.46 59.29 362.44 59.37 364.57C59.44 366.70 59.37 368.93 59.37 371.17C59.36 373.41 59.27 375.75 59.31 378.03C59.35 380.30 59.39 382.62 59.63 384.82C59.87 387.01 60.17 389.20 60.74 391.21C61.32 393.21 62.04 395.16 63.09 396.87C64.13 398.59 65.47 400.16 67.02 401.50C68.57 402.84 70.43 403.99 72.39 404.90C74.34 405.81 76.58 406.48 78.75 406.95C80.92 407.42 83.18 407.45 85.40 407.70"/><path d="M61.80 366.90C61.73 368.89 61.48 370.83 61.60 372.87C61.73 374.90 62.03 377.10 62.56 379.13C63.09 381.15 63.81 383.22 64.75 385.03C65.69 386.85 66.87 388.54 68.21 390.01C69.54 391.48 71.11 392.75 72.75 393.83C74.40 394.92 76.25 395.75 78.08 396.53C79.92 397.31 81.86 397.91 83.77 398.51C85.69 399.12 87.63 399.66 89.58 400.15C91.53 400.65 93.50 401.09 95.48 401.49C97.46 401.89 99.45 402.24 101.46 402.56C103.46 402.87 105.48 403.15 107.50 403.40C109.53 403.65 111.56 403.86 113.60 404.05C115.64 404.24 117.69 404.40 119.74 404.55C121.79 404.70 123.84 404.82 125.90 404.94C127.95 405.05 130.01 405.15 132.07 405.24C134.13 405.34 136.18 405.42 138.24 405.51C140.29 405.60 142.34 405.69 144.38 405.78C146.43 405.88 148.47 405.97 150.50 406.09C152.53 406.20 154.55 406.32 156.57 406.47C158.58 406.61 160.57 406.80 162.57 406.95C164.58 407.11 166.59 407.25 168.60 407.40"/><path d="M77.00 381.80C78.70 382.98 80.34 384.28 82.09 385.33C83.84 386.39 85.67 387.27 87.50 388.14C89.33 389.01 91.19 389.81 93.07 390.56C94.95 391.32 96.86 392.01 98.78 392.67C100.70 393.33 102.64 393.95 104.59 394.53C106.54 395.11 108.50 395.65 110.48 396.16C112.46 396.67 114.44 397.14 116.44 397.58C118.44 398.03 120.45 398.44 122.46 398.83C124.48 399.21 126.50 399.57 128.53 399.90C130.56 400.23 132.59 400.54 134.63 400.83C136.67 401.11 138.71 401.38 140.75 401.62C142.79 401.87 144.84 402.09 146.88 402.31C148.93 402.52 150.97 402.71 153.01 402.90C155.06 403.08 157.10 403.25 159.14 403.41C161.18 403.56 163.22 403.71 165.26 403.84C167.30 403.98 169.33 404.10 171.37 404.22C173.41 404.33 175.45 404.44 177.48 404.53C179.52 404.63 181.56 404.72 183.60 404.81C185.63 404.89 187.67 404.97 189.71 405.04C191.74 405.12 193.78 405.19 195.82 405.25C197.86 405.32 199.89 405.38 201.93 405.44C203.97 405.51 206.01 405.57 208.05 405.63C210.09 405.69 212.13 405.74 214.17 405.81C216.21 405.87 218.25 405.93 220.29 405.99C222.33 406.06 224.38 406.13 226.42 406.20C228.47 406.27 230.51 406.35 232.56 406.43C234.61 406.52 236.66 406.60 238.71 406.70C240.76 406.80 242.81 406.90 244.86 407.01C246.91 407.13 248.95 407.27 251.00 407.40"/><path d="M189.70 401.90C191.75 402.03 193.79 402.17 195.84 402.30C197.88 402.42 199.93 402.55 201.97 402.67C204.02 402.80 206.06 402.92 208.11 403.04C210.16 403.16 212.20 403.29 214.25 403.41C216.29 403.53 218.34 403.64 220.39 403.76C222.43 403.88 224.48 403.99 226.53 404.11C228.57 404.22 230.62 404.33 232.66 404.44C234.71 404.55 236.76 404.66 238.80 404.76C240.85 404.86 242.90 404.96 244.95 405.06C246.99 405.16 249.04 405.26 251.09 405.35C253.13 405.44 255.18 405.53 257.23 405.61C259.28 405.70 261.32 405.78 263.37 405.85C265.42 405.93 267.47 406.00 269.52 406.07C271.56 406.14 273.61 406.21 275.66 406.27C277.71 406.33 279.76 406.38 281.81 406.43C283.86 406.48 285.90 406.53 287.95 406.57C290.00 406.60 292.05 406.64 294.10 406.67C296.15 406.70 298.20 406.72 300.25 406.74C302.30 406.76 304.35 406.78 306.40 406.80"/></g><g fill="#3a55a6" stroke="none"><polygon points="228.60,303.93 239.20,305.02 235.94,311.66"/><polygon points="164.50,305.50 174.95,307.62 171.06,313.91"/><polygon points="222.32,336.66 232.96,337.30 229.99,344.07"/><polygon points="112.53,302.45 121.78,307.74 116.11,312.49"/><polygon points="133.44,320.10 143.54,323.51 138.88,329.27"/><polygon points="93.04,316.39 101.68,322.64 95.53,326.76"/><polygon points="99.52,336.89 108.48,342.67 102.56,347.11"/><polygon points="248.92,375.53 259.35,373.32 258.28,380.64"/><polygon points="74.25,329.42 81.36,337.37 74.47,340.08"/><polygon points="65.03,313.90 69.86,323.41 62.51,324.26"/><polygon points="70.31,300.92 76.28,309.75 69.09,311.51"/><polygon points="60.98,325.34 65.42,335.04 58.04,335.59"/><polygon points="59.81,386.35 64.75,395.80 57.41,396.74"/><polygon points="78.45,396.68 89.11,397.05 86.31,403.90"/><polygon points="146.07,402.22 156.40,399.59 155.62,406.95"/><polygon points="257.43,405.62 267.58,402.34 267.27,409.73"/></g>
<g fill="none" stroke="#3a55a6" stroke-width="2.30" stroke-linecap="butt" stroke-linejoin="round"><path d="M530.00 261.60C531.32 263.19 532.58 264.84 533.96 266.37C535.34 267.90 536.80 269.34 538.26 270.78C539.72 272.22 541.20 273.64 542.70 275.04C544.21 276.43 545.74 277.80 547.29 279.14C548.83 280.49 550.41 281.81 552.00 283.10C553.59 284.40 555.20 285.67 556.83 286.91C558.46 288.16 560.12 289.38 561.79 290.58C563.46 291.77 565.15 292.94 566.85 294.09C568.56 295.24 570.28 296.36 572.02 297.46C573.76 298.56 575.52 299.63 577.29 300.68C579.07 301.74 580.85 302.76 582.66 303.76C584.46 304.77 586.28 305.74 588.11 306.70C589.93 307.65 591.78 308.58 593.63 309.49C595.49 310.40 597.36 311.28 599.24 312.14C601.11 313.00 603.01 313.83 604.90 314.64C606.80 315.46 608.72 316.24 610.63 317.01C612.55 317.77 614.48 318.51 616.42 319.23C618.36 319.95 620.30 320.65 622.25 321.32C624.20 321.99 626.16 322.64 628.13 323.26C630.09 323.89 632.06 324.49 634.03 325.07C636.01 325.65 637.99 326.20 639.97 326.74C641.96 327.27 643.94 327.78 645.93 328.27C647.92 328.76 649.92 329.22 651.91 329.66C653.91 330.11 655.88 330.55 657.90 330.92C659.91 331.30 661.97 331.57 664.00 331.90"/><path d="M477.60 261.60C478.79 263.28 479.93 264.96 481.17 266.64C482.40 268.31 483.70 270.01 485.01 271.64C486.32 273.27 487.67 274.86 489.04 276.42C490.42 277.98 491.83 279.51 493.26 280.99C494.70 282.48 496.17 283.94 497.66 285.36C499.16 286.78 500.68 288.17 502.23 289.52C503.78 290.88 505.35 292.20 506.95 293.49C508.55 294.78 510.18 296.04 511.83 297.27C513.47 298.50 515.15 299.69 516.84 300.86C518.53 302.03 520.25 303.17 521.98 304.28C523.71 305.39 525.47 306.47 527.24 307.52C529.01 308.58 530.81 309.60 532.61 310.60C534.42 311.60 536.25 312.57 538.09 313.52C539.93 314.47 541.78 315.39 543.65 316.28C545.52 317.18 547.41 318.05 549.30 318.90C551.20 319.75 553.10 320.57 555.02 321.38C556.94 322.18 558.87 322.96 560.80 323.71C562.74 324.47 564.69 325.21 566.64 325.92C568.59 326.64 570.56 327.33 572.52 328.01C574.49 328.68 576.46 329.33 578.44 329.97C580.41 330.61 582.40 331.22 584.38 331.82C586.36 332.42 588.35 333.00 590.34 333.57C592.32 334.13 594.31 334.68 596.30 335.21C598.29 335.75 600.28 336.22 602.26 336.76C604.24 337.31 606.22 337.92 608.20 338.50"/><path d="M523.40 296.50C524.72 298.02 525.99 299.55 527.36 301.05C528.73 302.55 530.16 304.05 531.60 305.48C533.04 306.92 534.52 308.31 536.02 309.65C537.52 311.00 539.05 312.30 540.60 313.57C542.15 314.83 543.73 316.05 545.34 317.23C546.94 318.42 548.57 319.56 550.22 320.67C551.87 321.78 553.55 322.84 555.24 323.88C556.94 324.91 558.65 325.91 560.39 326.88C562.12 327.84 563.88 328.77 565.65 329.67C567.43 330.57 569.22 331.44 571.03 332.27C572.83 333.11 574.66 333.92 576.50 334.69C578.34 335.47 580.19 336.22 582.06 336.95C583.93 337.67 585.81 338.37 587.70 339.04C589.59 339.71 591.50 340.35 593.41 340.98C595.32 341.60 597.25 342.20 599.18 342.78C601.11 343.36 603.06 343.92 605.00 344.46C606.95 345.00 608.91 345.51 610.87 346.01C612.83 346.52 614.79 347.00 616.76 347.47C618.73 347.93 620.71 348.38 622.68 348.82C624.65 349.26 626.63 349.68 628.61 350.09C630.59 350.50 632.57 350.90 634.54 351.28C636.52 351.67 638.50 352.04 640.47 352.41C642.45 352.78 644.42 353.14 646.38 353.49C648.35 353.84 650.31 354.18 652.27 354.52C654.23 354.86 656.17 355.17 658.12 355.52C660.08 355.87 662.04 356.24 664.00 356.60"/><path d="M446.20 261.60C447.09 263.40 448.03 265.16 448.88 266.99C449.72 268.82 450.44 270.72 451.28 272.56C452.12 274.40 453.00 276.23 453.92 278.03C454.84 279.84 455.79 281.62 456.79 283.38C457.78 285.15 458.82 286.89 459.89 288.60C460.96 290.31 462.07 292.00 463.22 293.65C464.37 295.31 465.55 296.94 466.78 298.53C468.01 300.13 469.27 301.69 470.57 303.22C471.88 304.75 473.22 306.24 474.60 307.69C475.98 309.15 477.40 310.56 478.85 311.94C480.31 313.31 481.81 314.65 483.34 315.94C484.87 317.22 486.44 318.47 488.05 319.67C489.65 320.87 491.29 322.03 492.96 323.14C494.64 324.25 496.34 325.32 498.08 326.33C499.82 327.34 501.59 328.31 503.38 329.23C505.18 330.14 507.01 331.01 508.87 331.83C510.72 332.64 512.61 333.41 514.52 334.11C516.43 334.82 518.41 335.42 520.32 336.08C522.24 336.74 524.11 337.43 526.00 338.10"/><path d="M450.40 261.60C451.33 263.42 452.33 265.18 453.19 267.05C454.06 268.91 454.76 270.88 455.60 272.78C456.44 274.68 457.31 276.57 458.22 278.43C459.14 280.29 460.09 282.14 461.08 283.96C462.07 285.78 463.10 287.59 464.17 289.36C465.24 291.13 466.35 292.88 467.50 294.59C468.65 296.31 469.85 297.99 471.08 299.64C472.32 301.29 473.60 302.90 474.92 304.48C476.24 306.05 477.60 307.59 479.00 309.09C480.40 310.58 481.84 312.05 483.32 313.46C484.80 314.88 486.31 316.26 487.86 317.60C489.40 318.94 490.99 320.24 492.60 321.50C494.21 322.75 495.85 323.96 497.52 325.14C499.20 326.31 500.90 327.44 502.62 328.53C504.35 329.62 506.11 330.67 507.88 331.69C509.66 332.70 511.46 333.68 513.29 334.62C515.11 335.57 516.96 336.47 518.82 337.35C520.69 338.22 522.57 339.06 524.47 339.88C526.38 340.69 528.30 341.47 530.23 342.22C532.16 342.97 534.11 343.69 536.08 344.38C538.04 345.08 540.01 345.74 542.00 346.39C543.98 347.03 545.98 347.65 547.98 348.24C549.98 348.84 551.99 349.41 554.01 349.96C556.03 350.51 558.05 351.04 560.08 351.55C562.10 352.06 564.13 352.55 566.16 353.02C568.19 353.50 570.22 353.96 572.25 354.40C574.28 354.84 576.31 355.27 578.34 355.69C580.36 356.10 582.39 356.50 584.40 356.90C586.42 357.29 588.43 357.67 590.43 358.04C592.43 358.41 594.43 358.78 596.41 359.13C598.40 359.49 600.33 359.84 602.33 360.18C604.33 360.53 606.38 360.86 608.40 361.20"/><path d="M430.60 261.60C430.97 263.62 431.33 265.64 431.71 267.66C432.09 269.67 432.45 271.67 432.89 273.68C433.32 275.69 433.80 277.71 434.33 279.71C434.86 281.72 435.43 283.72 436.05 285.71C436.67 287.70 437.34 289.69 438.05 291.65C438.77 293.62 439.53 295.57 440.34 297.50C441.15 299.42 442.01 301.34 442.92 303.21C443.83 305.09 444.78 306.95 445.79 308.77C446.80 310.59 447.86 312.39 448.97 314.14C450.08 315.89 451.23 317.60 452.45 319.27C453.66 320.94 454.92 322.57 456.24 324.15C457.55 325.73 458.92 327.26 460.33 328.75C461.75 330.23 463.22 331.66 464.72 333.05C466.23 334.43 467.79 335.77 469.39 337.05C470.98 338.33 472.63 339.57 474.30 340.75C475.98 341.93 477.70 343.06 479.45 344.14C481.20 345.22 483.00 346.24 484.81 347.22C486.63 348.19 488.49 349.11 490.37 349.98C492.25 350.85 494.16 351.66 496.10 352.42C498.03 353.18 500.00 353.88 501.97 354.54C503.95 355.20 505.95 355.81 507.96 356.39C509.97 356.97 511.99 357.51 514.01 358.02C516.04 358.53 518.10 358.92 520.10 359.45C522.09 359.98 524.03 360.62 526.00 361.20"/><path d="M431.70 274.20C432.19 276.15 432.69 278.12 433.17 280.06C433.65 282.01 434.08 283.92 434.58 285.86C435.08 287.80 435.60 289.76 436.15 291.71C436.70 293.66 437.28 295.62 437.90 297.57C438.51 299.52 439.15 301.47 439.83 303.41C440.51 305.35 441.22 307.28 441.97 309.20C442.72 311.11 443.51 313.02 444.33 314.90C445.16 316.77 446.02 318.64 446.93 320.47C447.84 322.30 448.79 324.11 449.79 325.88C450.78 327.65 451.82 329.40 452.91 331.10C454.00 332.80 455.13 334.46 456.32 336.08C457.51 337.70 458.74 339.28 460.03 340.80C461.33 342.33 462.67 343.81 464.07 345.23C465.47 346.64 466.92 348.01 468.44 349.31C469.95 350.62 471.52 351.86 473.13 353.04C474.75 354.22 476.42 355.34 478.13 356.40C479.84 357.46 481.60 358.46 483.39 359.39C485.18 360.33 487.01 361.20 488.86 362.02C490.72 362.83 492.61 363.59 494.52 364.30C496.42 365.01 498.35 365.67 500.29 366.29C502.24 366.92 504.20 367.50 506.16 368.05C508.13 368.60 510.11 369.12 512.10 369.62C514.08 370.12 516.07 370.59 518.06 371.05C520.05 371.51 522.04 371.95 524.03 372.38C526.02 372.81 528.01 373.23 530.00 373.63C531.99 374.03 533.98 374.42 535.98 374.79C537.97 375.17 539.96 375.53 541.96 375.88C543.95 376.23 545.95 376.57 547.95 376.90C549.94 377.23 551.94 377.54 553.94 377.85C555.94 378.16 557.94 378.45 559.94 378.74C561.94 379.03 563.95 379.30 565.95 379.57C567.95 379.84 569.96 380.10 571.97 380.35C573.98 380.61 575.99 380.85 578.00 381.09C580.01 381.33 582.02 381.56 584.04 381.78C586.05 382.01 588.07 382.23 590.09 382.44C592.11 382.66 594.13 382.86 596.15 383.07C598.17 383.27 600.20 383.46 602.23 383.67C604.25 383.87 606.28 384.09 608.30 384.30"/><path d="M540.50 355.80C542.20 356.87 543.83 358.07 545.60 359.01C547.37 359.95 549.28 360.66 551.14 361.43C552.99 362.20 554.87 362.94 556.75 363.64C558.63 364.34 560.53 365.00 562.43 365.64C564.34 366.28 566.26 366.88 568.18 367.45C570.11 368.03 572.05 368.57 573.99 369.09C575.94 369.61 577.89 370.10 579.86 370.57C581.82 371.03 583.79 371.47 585.77 371.89C587.74 372.32 589.73 372.71 591.71 373.09C593.70 373.47 595.70 373.83 597.70 374.17C599.70 374.51 601.70 374.83 603.71 375.14C605.72 375.45 607.73 375.74 609.74 376.02C611.75 376.30 613.77 376.56 615.79 376.82C617.80 377.08 619.82 377.32 621.84 377.56C623.86 377.80 625.88 378.03 627.90 378.25C629.92 378.48 631.94 378.69 633.95 378.91C635.97 379.12 637.98 379.33 639.99 379.54C642.00 379.75 644.01 379.96 646.02 380.17C648.02 380.38 650.02 380.59 652.02 380.80C654.01 381.02 655.99 381.26 657.99 381.46C659.99 381.66 662.00 381.82 664.00 382.00"/><path d="M420.60 261.60C420.80 263.61 421.05 265.62 421.20 267.62C421.35 269.61 421.39 271.56 421.50 273.57C421.62 275.57 421.74 277.60 421.89 279.64C422.04 281.68 422.20 283.74 422.39 285.81C422.58 287.88 422.79 289.96 423.03 292.04C423.28 294.12 423.54 296.21 423.85 298.29C424.15 300.37 424.48 302.45 424.85 304.52C425.23 306.59 425.63 308.66 426.08 310.71C426.53 312.76 427.02 314.80 427.56 316.82C428.09 318.84 428.67 320.84 429.30 322.81C429.94 324.78 430.62 326.74 431.35 328.65C432.09 330.57 432.88 332.46 433.73 334.30C434.58 336.15 435.48 337.97 436.46 339.73C437.43 341.50 438.46 343.23 439.56 344.91C440.67 346.58 441.83 348.22 443.07 349.79C444.31 351.36 445.63 352.89 447.00 354.35C448.38 355.82 449.83 357.23 451.32 358.58C452.82 359.93 454.39 361.23 456.00 362.46C457.61 363.70 459.28 364.88 460.99 366.00C462.70 367.11 464.47 368.17 466.27 369.17C468.07 370.16 469.92 371.09 471.80 371.96C473.68 372.83 475.60 373.64 477.54 374.39C479.48 375.13 481.46 375.82 483.45 376.45C485.44 377.09 487.46 377.67 489.49 378.20C491.52 378.74 493.56 379.22 495.61 379.67C497.66 380.12 499.72 380.52 501.77 380.88C503.83 381.25 505.89 381.58 507.93 381.88C509.98 382.18 512.02 382.45 514.04 382.69C516.06 382.94 518.07 383.09 520.06 383.35C522.05 383.62 524.02 383.98 526.00 384.30"/><path d="M419.05 261.60C419.19 263.63 419.33 265.66 419.48 267.68C419.63 269.70 419.83 271.68 419.97 273.71C420.11 275.74 420.22 277.79 420.33 279.85C420.43 281.91 420.52 283.99 420.61 286.07C420.71 288.15 420.79 290.25 420.88 292.34C420.98 294.44 421.07 296.54 421.19 298.64C421.31 300.74 421.43 302.85 421.59 304.94C421.74 307.03 421.92 309.13 422.13 311.20C422.35 313.28 422.59 315.36 422.88 317.41C423.17 319.46 423.50 321.51 423.88 323.53C424.27 325.55 424.70 327.55 425.20 329.53C425.69 331.51 426.25 333.46 426.88 335.39C427.51 337.31 428.20 339.21 428.98 341.08C429.76 342.94 430.61 344.77 431.56 346.56C432.50 348.35 433.53 350.11 434.66 351.82C435.80 353.53 436.99 355.26 438.36 356.82C439.73 358.39 441.39 359.74 442.90 361.20"/><path d="M422.60 261.60C422.69 263.64 422.76 265.68 422.88 267.72C423.01 269.75 423.15 271.79 423.32 273.82C423.50 275.86 423.71 277.90 423.95 279.93C424.19 281.97 424.46 284.00 424.77 286.03C425.08 288.06 425.42 290.08 425.80 292.10C426.18 294.12 426.60 296.13 427.05 298.13C427.50 300.13 427.99 302.12 428.52 304.10C429.05 306.08 429.62 308.05 430.23 310.00C430.84 311.95 431.50 313.89 432.19 315.81C432.89 317.73 433.62 319.64 434.41 321.53C435.19 323.41 436.02 325.28 436.89 327.13C437.77 328.97 438.65 330.82 439.66 332.60C440.66 334.37 441.82 336.07 442.90 337.80"/><path d="M416.20 261.60C416.27 263.68 416.33 265.77 416.42 267.83C416.51 269.89 416.65 271.89 416.74 273.94C416.83 275.98 416.89 278.03 416.96 280.09C417.02 282.15 417.06 284.22 417.11 286.29C417.15 288.36 417.19 290.44 417.22 292.52C417.26 294.60 417.29 296.69 417.33 298.78C417.37 300.86 417.41 302.96 417.46 305.05C417.51 307.14 417.57 309.23 417.64 311.33C417.71 313.42 417.79 315.52 417.90 317.61C418.01 319.70 418.12 321.79 418.27 323.88C418.42 325.97 418.59 328.06 418.78 330.14C418.98 332.22 419.21 334.30 419.47 336.37C419.73 338.44 420.02 340.51 420.35 342.57C420.68 344.63 421.04 346.69 421.46 348.72C421.89 350.76 422.34 352.79 422.88 354.78C423.42 356.77 424.01 358.74 424.69 360.66C425.38 362.58 426.13 364.46 426.99 366.29C427.85 368.11 428.79 369.89 429.86 371.59C430.93 373.29 432.10 374.93 433.41 376.48C434.71 378.04 436.08 379.61 437.71 380.90C439.34 382.18 441.37 383.10 443.20 384.20"/><path d="M416.30 358.40C416.46 360.46 416.69 362.44 416.77 364.57C416.84 366.70 416.77 368.93 416.77 371.17C416.76 373.41 416.67 375.75 416.71 378.03C416.75 380.30 416.79 382.62 417.03 384.82C417.27 387.01 417.57 389.20 418.14 391.21C418.72 393.21 419.44 395.16 420.49 396.87C421.53 398.59 422.87 400.16 424.42 401.50C425.97 402.84 427.83 403.99 429.79 404.90C431.74 405.81 433.98 406.48 436.15 406.95C438.32 407.42 440.58 407.45 442.80 407.70"/><path d="M419.20 366.90C419.13 368.89 418.88 370.83 419.00 372.87C419.13 374.90 419.43 377.10 419.96 379.13C420.49 381.15 421.21 383.22 422.15 385.03C423.09 386.85 424.27 388.54 425.61 390.01C426.94 391.48 428.51 392.75 430.15 393.83C431.80 394.92 433.65 395.75 435.48 396.53C437.32 397.31 439.26 397.91 441.17 398.51C443.09 399.12 445.03 399.66 446.98 400.15C448.93 400.65 450.90 401.09 452.88 401.49C454.86 401.89 456.85 402.24 458.86 402.56C460.86 402.87 462.88 403.15 464.90 403.40C466.93 403.65 468.96 403.86 471.00 404.05C473.04 404.24 475.09 404.40 477.14 404.55C479.19 404.70 481.24 404.82 483.30 404.94C485.35 405.05 487.41 405.15 489.47 405.24C491.53 405.34 493.58 405.42 495.64 405.51C497.69 405.60 499.74 405.69 501.78 405.78C503.83 405.88 505.87 405.97 507.90 406.09C509.93 406.20 511.95 406.32 513.97 406.47C515.98 406.61 517.97 406.80 519.97 406.95C521.98 407.11 523.99 407.25 526.00 407.40"/><path d="M434.40 381.80C436.10 382.98 437.74 384.28 439.49 385.33C441.24 386.39 443.07 387.27 444.90 388.14C446.73 389.01 448.59 389.81 450.47 390.56C452.35 391.32 454.26 392.01 456.18 392.67C458.10 393.33 460.04 393.95 461.99 394.53C463.94 395.11 465.90 395.65 467.88 396.16C469.86 396.67 471.84 397.14 473.84 397.58C475.84 398.03 477.85 398.44 479.86 398.83C481.88 399.21 483.90 399.57 485.93 399.90C487.96 400.23 489.99 400.54 492.03 400.83C494.07 401.11 496.11 401.38 498.15 401.62C500.19 401.87 502.24 402.09 504.28 402.31C506.33 402.52 508.37 402.71 510.41 402.90C512.46 403.08 514.50 403.25 516.54 403.41C518.58 403.56 520.62 403.71 522.66 403.84C524.70 403.98 526.73 404.10 528.77 404.22C530.81 404.33 532.85 404.44 534.88 404.53C536.92 404.63 538.96 404.72 541.00 404.81C543.03 404.89 545.07 404.97 547.11 405.04C549.14 405.12 551.18 405.19 553.22 405.25C555.26 405.32 557.29 405.38 559.33 405.44C561.37 405.51 563.41 405.57 565.45 405.63C567.49 405.69 569.53 405.74 571.57 405.81C573.61 405.87 575.65 405.93 577.69 405.99C579.73 406.06 581.78 406.13 583.82 406.20C585.87 406.27 587.91 406.35 589.96 406.43C592.01 406.52 594.06 406.60 596.11 406.70C598.16 406.80 600.21 406.90 602.26 407.01C604.31 407.13 606.35 407.27 608.40 407.40"/><path d="M547.10 401.90C549.15 402.03 551.19 402.17 553.24 402.30C555.28 402.42 557.33 402.55 559.37 402.67C561.42 402.80 563.46 402.92 565.51 403.04C567.56 403.16 569.60 403.29 571.65 403.41C573.69 403.53 575.74 403.64 577.79 403.76C579.83 403.88 581.88 403.99 583.93 404.11C585.97 404.22 588.02 404.33 590.06 404.44C592.11 404.55 594.16 404.66 596.20 404.76C598.25 404.86 600.30 404.96 602.35 405.06C604.39 405.16 606.44 405.26 608.49 405.35C610.53 405.44 612.58 405.53 614.63 405.61C616.68 405.70 618.72 405.78 620.77 405.85C622.82 405.93 624.87 406.00 626.92 406.07C628.96 406.14 631.01 406.21 633.06 406.27C635.11 406.33 637.16 406.38 639.21 406.43C641.26 406.48 643.30 406.53 645.35 406.57C647.40 406.60 649.45 406.64 651.50 406.67C653.55 406.70 655.60 406.72 657.65 406.74C659.70 406.76 661.75 406.78 663.80 406.80"/></g><g fill="#3a55a6" stroke="none"><polygon points="585.73,305.44 596.30,306.91 592.80,313.43"/><polygon points="521.98,304.28 532.40,306.55 528.41,312.78"/><polygon points="579.83,336.07 590.48,336.35 587.73,343.22"/><polygon points="469.93,302.45 479.18,307.74 473.51,312.49"/><polygon points="490.84,320.10 500.94,323.51 496.28,329.27"/><polygon points="450.44,316.39 459.08,322.64 452.93,326.76"/><polygon points="456.92,336.89 465.88,342.67 459.96,347.11"/><polygon points="606.32,375.53 616.75,373.32 615.68,380.64"/><polygon points="431.65,329.42 438.76,337.37 431.87,340.08"/><polygon points="422.43,313.90 427.26,323.41 419.91,324.26"/><polygon points="427.71,300.92 433.68,309.75 426.49,311.51"/><polygon points="418.38,325.34 422.82,335.04 415.44,335.59"/><polygon points="417.21,386.35 422.15,395.80 414.81,396.74"/><polygon points="435.85,396.68 446.51,397.05 443.71,403.90"/><polygon points="503.47,402.22 513.80,399.59 513.02,406.95"/><polygon points="614.83,405.62 624.98,402.34 624.67,409.73"/></g>
<text x="182.50" y="10.70" font-size="14.7" text-anchor="middle">K=1, <tspan font-style="italic">&#956;</tspan>=0 (2nd Order RG)</text><text transform="translate(58.30 193.70) scale(1 1.050)" class="tk" font-size="21.5" text-anchor="middle">0</text><text transform="translate(168.70 193.70) scale(1 1.050)" class="tk" font-size="21.5" text-anchor="middle">0.2</text><text transform="translate(279.10 193.70) scale(1 1.050)" class="tk" font-size="21.5" text-anchor="middle">0.4</text><text transform="translate(54.30 176.60) scale(1 1.050)" class="tk" font-size="21.5" text-anchor="end">0</text><text transform="translate(54.30 115.20) scale(1 1.050)" class="tk" font-size="21.5" text-anchor="end">0.4</text><text transform="translate(54.30 53.80) scale(1 1.050)" class="tk" font-size="21.5" text-anchor="end">0.8</text><text x="182.60" y="223.00" font-size="16.8" text-anchor="middle">U</text><text transform="translate(11.90 92.40) rotate(-90)" font-size="16.8" class="dl" text-anchor="middle" x="0" y="0">&#916;</text>
<text x="539.90" y="10.80" font-size="14.7" text-anchor="middle">K=1, <tspan font-style="italic">&#956;</tspan>=1 (2nd Order RG)</text><text transform="translate(415.70 193.80) scale(1 1.050)" class="tk" font-size="21.5" text-anchor="middle">0</text><text transform="translate(526.10 193.80) scale(1 1.050)" class="tk" font-size="21.5" text-anchor="middle">0.2</text><text transform="translate(636.50 193.80) scale(1 1.050)" class="tk" font-size="21.5" text-anchor="middle">0.4</text><text transform="translate(411.70 176.70) scale(1 1.050)" class="tk" font-size="21.5" text-anchor="end">0</text><text transform="translate(411.70 115.30) scale(1 1.050)" class="tk" font-size="21.5" text-anchor="end">0.4</text><text transform="translate(411.70 53.90) scale(1 1.050)" class="tk" font-size="21.5" text-anchor="end">0.8</text><text x="540.00" y="223.10" font-size="16.8" text-anchor="middle">U</text><text transform="translate(369.30 92.50) rotate(-90)" font-size="16.8" class="dl" text-anchor="middle" x="0" y="0">&#916;</text>
<text x="182.50" y="257.10" font-size="14.7" text-anchor="middle">K=1,<tspan font-style="italic">&#956;</tspan>=0 (3rd Order RG)</text><text transform="translate(58.30 440.10) scale(1 1.050)" class="tk" font-size="21.5" text-anchor="middle">0</text><text transform="translate(168.70 440.10) scale(1 1.050)" class="tk" font-size="21.5" text-anchor="middle">0.2</text><text transform="translate(279.10 440.10) scale(1 1.050)" class="tk" font-size="21.5" text-anchor="middle">0.4</text><text transform="translate(54.30 423.00) scale(1 1.050)" class="tk" font-size="21.5" text-anchor="end">0</text><text transform="translate(54.30 361.60) scale(1 1.050)" class="tk" font-size="21.5" text-anchor="end">0.4</text><text transform="translate(54.30 300.20) scale(1 1.050)" class="tk" font-size="21.5" text-anchor="end">0.8</text><text x="182.60" y="469.40" font-size="16.8" text-anchor="middle">U</text><text transform="translate(11.90 338.80) rotate(-90)" font-size="16.8" class="dl" text-anchor="middle" x="0" y="0">&#916;</text>
<text x="539.90" y="257.10" font-size="14.7" text-anchor="middle">K=1,<tspan font-style="italic">&#956;</tspan>=1 (3rd Order RG)</text><text transform="translate(415.70 440.10) scale(1 1.050)" class="tk" font-size="21.5" text-anchor="middle">0</text><text transform="translate(526.10 440.10) scale(1 1.050)" class="tk" font-size="21.5" text-anchor="middle">0.2</text><text transform="translate(636.50 440.10) scale(1 1.050)" class="tk" font-size="21.5" text-anchor="middle">0.4</text><text transform="translate(411.70 423.00) scale(1 1.050)" class="tk" font-size="21.5" text-anchor="end">0</text><text transform="translate(411.70 361.60) scale(1 1.050)" class="tk" font-size="21.5" text-anchor="end">0.4</text><text transform="translate(411.70 300.20) scale(1 1.050)" class="tk" font-size="21.5" text-anchor="end">0.8</text><text x="540.00" y="469.40" font-size="16.8" text-anchor="middle">U</text><text transform="translate(369.30 338.80) rotate(-90)" font-size="16.8" class="dl" text-anchor="middle" x="0" y="0">&#916;</text>
</svg>
</body></html>
